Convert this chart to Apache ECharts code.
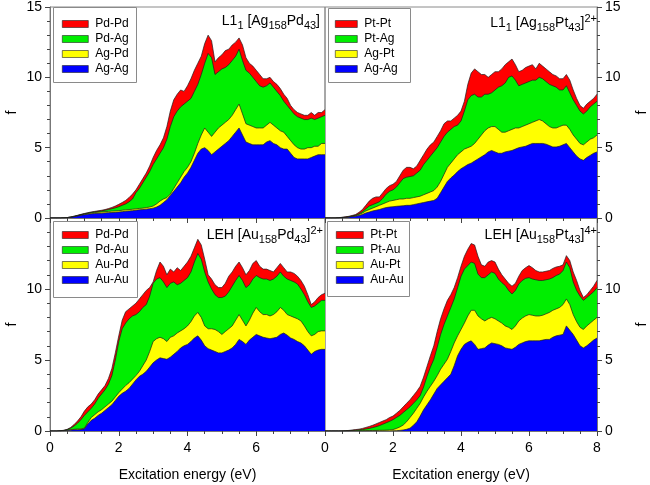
<!DOCTYPE html>
<html>
<head>
<meta charset="utf-8">
<script src="https://cdn.jsdelivr.net/npm/echarts@6/dist/echarts.min.js"></script>
<style>html,body{margin:0;padding:0;background:#fff;}#c{width:650px;height:485px;}</style>
</head>
<body>
<div id="c"></div>
<script>
// Excitation energy sampling (eV)
const energy = [0,0.1,0.2,0.3,0.4,0.5,0.6,0.7,0.8,0.9,1.0,1.1,1.2,1.3,1.4,1.5,1.6,1.7,1.8,1.9,2.0,2.1,2.2,2.3,2.4,2.5,2.6,2.7,2.8,2.9,3.0,3.1,3.2,3.3,3.4,3.5,3.6,3.7,3.8,3.9,4.0,4.1,4.2,4.3,4.4,4.5,4.6,4.7,4.8,4.9,5.0,5.1,5.2,5.3,5.4,5.5,5.6,5.7,5.8,5.9,6.0,6.1,6.2,6.3,6.4,6.5,6.6,6.7,6.8,6.9,7.0,7.1,7.2,7.3,7.4,7.5,7.6,7.7,7.8,7.9,8.0];
const xTicks = [0, 2, 4, 6, 8];
const yTicks = [0, 5, 10, 15];

// Panel 1: L1_1 [Ag158Pd43] (cumulative boundaries)
const p1Total  = [0,0,0,0,0.01,0.03,0.07,0.13,0.19,0.26,0.32,0.38,0.43,0.47,0.51,0.55,0.6,0.67,0.75,0.85,0.97,1.1,1.25,1.45,1.7,2.0,2.4,2.8,3.2,3.7,4.3,4.8,5.2,5.7,6.5,7.6,8.4,8.8,9.1,9.0,9.4,9.9,10.5,11.0,11.5,12.4,13.0,12.6,11.1,11.4,11.6,11.9,12.0,12.3,12.5,12.8,12.3,11.4,11.0,10.8,10.5,10.2,9.9,9.9,10.0,9.7,9.5,9.2,8.8,8.5,8.0,7.7,7.5,7.4,7.3,7.3,7.5,7.3,7.5,7.5,7.7];
const p1Green  = [0,0,0,0,0.01,0.03,0.07,0.12,0.18,0.24,0.3,0.35,0.4,0.44,0.47,0.5,0.55,0.6,0.66,0.72,0.8,0.9,1.0,1.15,1.35,1.8,2.1,2.5,2.9,3.3,3.8,4.2,4.6,5.0,5.6,6.5,7.2,7.6,7.9,8.1,8.3,8.5,9.0,9.5,10.2,11.0,11.7,11.4,10.2,10.4,10.6,10.7,10.9,11.2,11.5,12.0,11.2,10.5,10.3,10.0,9.7,9.4,9.3,9.4,9.6,9.3,9.0,8.7,8.3,8.0,7.7,7.4,7.2,7.1,7.0,7.0,7.1,7.0,7.1,7.2,7.3];
const p1Yellow = [0,0,0,0,0.01,0.03,0.06,0.1,0.16,0.22,0.27,0.32,0.36,0.39,0.41,0.43,0.45,0.47,0.49,0.5,0.52,0.55,0.58,0.6,0.62,0.65,0.68,0.7,0.74,0.78,0.85,1.0,1.2,1.35,1.45,1.7,2.1,2.5,2.9,3.3,3.6,4.0,4.6,5.3,5.9,6.4,6.1,5.8,6.1,6.4,6.6,6.8,7.0,7.3,7.7,8.1,7.4,6.7,6.6,6.5,6.4,6.4,6.4,6.6,6.8,6.6,6.4,6.2,6.1,5.8,5.5,5.2,5.0,4.9,4.9,5.0,5.0,5.1,5.1,5.3,5.3];
const p1Blue   = [0,0,0,0,0.01,0.02,0.05,0.09,0.14,0.19,0.23,0.27,0.3,0.32,0.33,0.34,0.36,0.38,0.39,0.4,0.42,0.45,0.48,0.5,0.52,0.55,0.58,0.6,0.63,0.66,0.7,0.78,0.9,1.1,1.3,1.6,1.9,2.2,2.5,2.9,3.2,3.6,4.1,4.6,4.9,5.0,4.8,4.5,4.7,4.9,5.1,5.3,5.5,5.8,6.1,6.4,5.9,5.4,5.3,5.2,5.2,5.2,5.2,5.4,5.5,5.3,5.2,5.0,4.9,4.9,4.6,4.3,4.2,4.2,4.2,4.2,4.3,4.4,4.5,4.5,4.5];

// Panel 2: L1_1 [Ag158Pt43]2+
const p2Total  = [0,0,0,0,0.02,0.05,0.08,0.12,0.18,0.25,0.4,0.6,0.9,1.2,1.4,1.5,1.5,1.8,2.1,2.3,2.4,2.6,3.0,3.4,3.6,3.6,3.5,3.7,4.1,4.5,4.9,5.2,5.4,5.8,6.2,6.7,6.9,6.9,7.1,7.3,7.6,8.3,9.5,10.3,10.6,10.4,10.2,10.2,10.0,10.2,10.4,10.4,10.6,10.9,11.1,11.3,10.9,10.4,10.5,10.7,10.8,10.9,10.6,11.0,10.8,10.6,10.4,10.2,10.1,9.9,9.9,10.2,9.8,9.1,8.5,8.0,7.8,8.1,8.3,8.5,8.8];
const p2Green  = [0,0,0,0,0.01,0.04,0.06,0.1,0.14,0.2,0.3,0.45,0.65,0.85,0.95,1.05,1.15,1.4,1.7,1.9,2.0,2.2,2.5,2.8,2.9,2.95,3.0,3.2,3.4,3.8,4.1,4.4,4.7,5.0,5.4,5.8,6.1,6.3,6.5,6.6,6.9,7.6,8.4,8.7,8.8,8.6,8.6,8.8,8.8,8.9,9.1,9.3,9.4,9.6,10.0,10.1,9.8,9.4,9.5,9.6,9.7,9.8,9.8,10.0,9.9,9.7,9.5,9.4,9.3,9.1,9.1,9.4,8.9,8.4,8.0,7.6,7.4,7.6,7.9,8.1,8.3];
const p2Yellow = [0,0,0,0,0.01,0.03,0.05,0.08,0.12,0.16,0.25,0.35,0.5,0.6,0.7,0.8,0.9,1.0,1.1,1.2,1.25,1.3,1.35,1.35,1.4,1.4,1.45,1.5,1.55,1.65,1.75,1.85,1.95,2.2,2.6,3.1,3.6,3.9,4.2,4.5,4.7,4.9,5.0,5.1,5.3,5.6,5.9,6.2,6.4,6.5,6.5,6.3,6.1,6.1,6.2,6.3,6.4,6.4,6.5,6.6,6.7,6.8,6.9,7.0,6.9,6.7,6.5,6.4,6.4,6.5,6.6,6.6,6.3,5.9,5.6,5.3,5.2,5.4,5.6,5.7,5.9];
const p2Blue   = [0,0,0,0,0.01,0.02,0.04,0.06,0.1,0.13,0.18,0.25,0.35,0.42,0.5,0.55,0.6,0.68,0.74,0.78,0.8,0.83,0.85,0.87,0.9,0.9,0.95,1.0,1.05,1.1,1.15,1.2,1.25,1.4,1.8,2.2,2.6,2.85,3.05,3.3,3.5,3.65,3.8,3.9,4.05,4.2,4.35,4.5,4.7,4.8,4.7,4.6,4.6,4.7,4.75,4.8,4.9,5.0,5.05,5.1,5.2,5.3,5.3,5.3,5.3,5.25,5.15,5.05,5.05,5.1,5.2,5.3,5.0,4.7,4.4,4.2,4.1,4.3,4.45,4.6,4.7];

// Panel 3: LEH [Au158Pd43]2+
const p3Total  = [0,0,0,0.02,0.05,0.12,0.25,0.45,0.7,1.0,1.4,1.7,1.9,2.2,2.6,2.9,3.2,3.7,4.4,5.5,6.7,7.8,8.4,8.6,8.8,9.0,9.3,9.6,9.9,10.1,10.5,11.3,11.9,11.6,11.0,11.4,11.2,11.5,11.3,11.6,11.9,12.3,12.9,13.5,13.1,12.1,11.0,10.7,10.3,10.1,10.1,10.4,10.9,11.2,11.6,11.9,11.5,11.0,11.3,11.8,12.0,11.6,11.4,11.4,11.3,11.2,11.5,11.8,11.5,11.2,11.2,11.1,10.9,10.6,10.2,9.6,8.9,9.1,9.4,9.6,9.7];
const p3Green  = [0,0,0,0.02,0.04,0.1,0.2,0.35,0.55,0.8,1.1,1.35,1.6,1.9,2.3,2.6,2.9,3.3,3.9,5.0,6.3,7.2,7.6,7.9,8.1,8.2,8.4,8.7,8.9,9.5,10.4,10.7,10.8,10.5,10.1,10.4,10.5,10.3,10.4,10.6,10.8,11.2,11.9,12.5,12.1,11.2,10.5,10.0,9.6,9.4,9.4,9.5,9.8,10.2,10.6,10.95,10.6,10.1,10.3,10.7,10.95,10.8,10.7,10.7,10.6,10.7,10.9,11.2,10.9,10.7,10.6,10.5,10.35,10.0,9.6,9.1,8.7,8.8,9.0,9.2,9.2];
const p3Yellow = [0,0,0,0.01,0.03,0.06,0.1,0.12,0.14,0.15,0.2,0.6,0.95,1.15,1.35,1.5,1.7,1.9,2.1,2.4,2.7,2.95,3.2,3.4,3.65,3.9,4.2,4.6,5.0,5.6,6.3,6.5,6.6,6.5,6.3,6.6,6.7,6.9,7.05,7.2,7.4,7.7,8.1,8.35,8.0,7.4,7.2,7.2,7.15,7.0,6.8,7.0,7.2,7.4,7.8,8.2,7.8,7.4,7.8,8.3,8.7,8.4,8.2,8.2,8.1,8.2,8.4,8.7,8.5,8.2,8.1,8.0,7.9,7.75,7.4,7.0,6.7,6.8,7.0,7.05,7.05];
const p3Blue   = [0,0,0,0.01,0.02,0.04,0.06,0.08,0.09,0.1,0.15,0.5,0.75,0.9,1.1,1.25,1.45,1.65,1.85,2.15,2.45,2.65,2.8,3.0,3.3,3.6,3.85,4.0,4.2,4.5,4.8,5.0,5.15,5.1,5.05,5.2,5.4,5.6,5.85,6.0,6.1,6.3,6.55,6.7,6.4,6.0,5.8,5.7,5.6,5.5,5.5,5.6,5.7,5.85,6.1,6.45,6.3,6.1,6.4,6.6,6.8,6.7,6.6,6.55,6.5,6.55,6.6,6.8,6.9,6.75,6.55,6.45,6.3,6.2,6.0,5.7,5.4,5.6,5.7,5.75,5.75];

// Panel 4: LEH [Au158Pt43]4+
const p4Total  = [0,0,0,0,0,0,0.02,0.04,0.07,0.1,0.13,0.18,0.25,0.32,0.4,0.5,0.6,0.7,0.8,0.95,1.05,1.25,1.45,1.7,1.95,2.2,2.5,2.8,3.15,3.8,4.55,5.3,6.0,7.0,7.9,8.6,9.2,9.6,10.1,10.8,11.6,12.3,12.8,13.2,13.1,12.3,11.7,11.6,11.9,12.0,11.9,11.4,11.0,10.7,10.4,10.2,10.4,10.9,11.3,11.5,11.65,11.5,11.3,11.2,11.2,11.25,11.3,11.45,11.55,11.6,11.7,12.35,12.0,11.2,10.6,9.9,9.4,9.6,9.9,10.2,10.6];
const p4Green  = [0,0,0,0,0,0,0.01,0.02,0.04,0.06,0.08,0.1,0.14,0.18,0.24,0.3,0.38,0.48,0.58,0.68,0.8,0.95,1.1,1.3,1.5,1.7,1.95,2.2,2.5,3.1,3.85,4.5,5.05,5.9,6.8,7.5,8.1,8.7,9.3,10.1,10.9,11.4,11.65,11.9,11.8,11.05,10.8,10.8,11.0,11.2,11.1,10.7,10.45,10.25,9.9,9.65,9.9,10.35,10.6,10.75,10.8,10.7,10.65,10.6,10.6,10.65,10.7,10.8,10.95,11.05,11.3,11.9,11.5,10.5,9.9,9.5,9.2,9.4,9.6,9.8,10.1];
const p4Yellow = [0,0,0,0,0,0,0,0,0.01,0.01,0.02,0.02,0.03,0.03,0.04,0.04,0.05,0.05,0.06,0.07,0.1,0.18,0.28,0.42,0.65,0.95,1.25,1.6,1.95,2.4,2.8,3.15,3.5,3.9,4.35,4.7,5.05,5.6,6.2,6.7,7.15,7.6,8.1,8.5,8.5,8.1,7.9,7.75,7.9,8.0,7.9,7.75,7.6,7.4,7.3,7.15,7.4,7.75,7.95,8.1,8.2,8.15,8.1,8.1,8.15,8.25,8.35,8.5,8.6,8.7,8.9,9.3,8.9,8.2,7.7,7.3,7.15,7.4,7.6,7.8,8.0];
const p4Blue   = [0,0,0,0,0,0,0,0,0,0,0,0,0,0,0,0,0,0,0,0,0.01,0.02,0.04,0.07,0.12,0.2,0.4,0.65,1.05,1.5,1.85,2.2,2.6,3.0,3.25,3.5,3.75,4.0,4.6,5.3,5.75,6.1,6.25,6.35,6.1,5.75,5.8,5.85,6.05,6.2,6.15,6.1,6.0,5.85,5.8,5.75,5.9,6.1,6.2,6.3,6.35,6.35,6.35,6.35,6.4,6.45,6.45,6.6,6.7,6.75,6.8,7.4,7.1,6.8,6.4,6.0,5.85,6.0,6.2,6.4,6.55];

const names1 = ['Pd-Pd', 'Pd-Ag', 'Ag-Pd', 'Ag-Ag'];
const names2 = ['Pt-Pt', 'Pt-Ag', 'Ag-Pt', 'Ag-Ag'];
const names3 = ['Pd-Pd', 'Pd-Au', 'Au-Pd', 'Au-Au'];
const names4 = ['Pt-Pt', 'Pt-Au', 'Au-Pt', 'Au-Au'];
const fillColors = ['#ff0000', '#00ee00', '#ffff00', '#0000ff'];

const F = "'Liberation Sans', Arial, Helvetica, sans-serif";

const panels = [
  {names: names1, data: [p1Total, p1Green, p1Yellow, p1Blue]},
  {names: names2, data: [p2Total, p2Green, p2Yellow, p2Blue]},
  {names: names3, data: [p3Total, p3Green, p3Yellow, p3Blue]},
  {names: names4, data: [p4Total, p4Green, p4Yellow, p4Blue]}
];

const grids = [
  {left: 50, top: 6, width: 275, height: 212},
  {left: 325, top: 6, width: 274, height: 212},
  {left: 50, top: 218, width: 275, height: 213},
  {left: 325, top: 218, width: 274, height: 213}
].map(g => Object.assign({show: true, borderColor: '#8a8a8a', borderWidth: 1, backgroundColor: 'transparent'}, g));

const tickCol = '#444';
const xAxes = [0,1,2,3].map(i => ({
  type: 'value', gridIndex: i, min: xTicks[0], max: xTicks[xTicks.length-1], interval: 2,
  axisLine: {show: true, onZero: false, lineStyle: {color: '#777', width: 1}},
  axisTick: {show: true, inside: false, length: 5, lineStyle: {color: tickCol}},
  minorTick: {show: true, splitNumber: 4, length: 3, lineStyle: {color: tickCol}},
  splitLine: {show: false},
  axisLabel: {show: i >= 2, fontSize: 14, fontFamily: F, color: '#000', margin: 10,
              showMaxLabel: i === 3, showMinLabel: true},
  name: i >= 2 ? 'Excitation energy (eV)' : '',
  nameLocation: 'middle', nameGap: 37,
  nameTextStyle: {fontSize: 14, fontFamily: F, color: '#000'}
}));

const yAxes = [0,1,2,3].map(i => ({
  type: 'value', gridIndex: i, min: yTicks[0], max: yTicks[yTicks.length-1], interval: 5,
  position: (i % 2 === 1) ? 'right' : 'left',
  axisLine: {show: true, onZero: false, lineStyle: {color: '#777', width: 1}},
  axisTick: {show: true, inside: false, length: 5, lineStyle: {color: tickCol}},
  minorTick: {show: true, splitNumber: 5, length: 3, lineStyle: {color: tickCol}},
  splitLine: {show: false},
  axisLabel: {fontSize: 14, fontFamily: F, color: '#000', margin: 8,
              showMaxLabel: i < 2, showMinLabel: true},
  name: 'f', nameLocation: 'middle', nameGap: (i % 2 === 1) ? 38 : 31,
  nameTextStyle: {fontSize: 14, fontFamily: F, color: '#000'}
}));

const series = [];
panels.forEach((p, i) => {
  p.data.forEach((vals, k) => {
    series.push({
      type: 'line', name: p.names[k], xAxisIndex: i, yAxisIndex: i,
      data: energy.map((e, j) => [e, vals[j]]),
      symbol: 'none', showSymbol: false, smooth: false, silent: true,
      color: fillColors[k],
      itemStyle: {color: fillColors[k]},
      lineStyle: {color: '#1e1e1e', width: 0.7},
      areaStyle: {color: fillColors[k], opacity: 1, origin: 0},
      z: 2
    });
  });
});

const legendPos = [
  {left: 62, top: 17, w: 26},
  {left: 335, top: 17, w: 22},
  {left: 62, top: 228, w: 26},
  {left: 336, top: 228, w: 27}
];
const legends = panels.map((p, i) => ({
  orient: 'vertical', left: legendPos[i].left, top: legendPos[i].top, padding: 0,
  itemWidth: legendPos[i].w, itemHeight: 7, itemGap: 1, selectedMode: false, z: 10,
  data: p.names.map((n, k) => ({name: n, icon: 'rect', itemStyle: {color: fillColors[k], borderColor: '#222', borderWidth: 0.6}})),
  textStyle: {fontSize: 12, fontFamily: F, color: '#000', lineHeight: 14, padding: [0, 0, 0, 2]}
}));

const rich = {
  n: {fontSize: 14, fontFamily: F, color: '#000', lineHeight: 20},
  s: {fontSize: 11, fontFamily: F, color: '#000', lineHeight: 11, verticalAlign: 'bottom'},
  p: {fontSize: 11, fontFamily: F, color: '#000', lineHeight: 11, verticalAlign: 'top'}
};
const titleTexts = [
  '{n|L1}{s|1}{n| [Ag}{s|158}{n|Pd}{s|43}{n|]}',
  '{n|L1}{s|1}{n| [Ag}{s|158}{n|Pt}{s|43}{n|]}{p|2+}',
  '{n|LEH [Au}{s|158}{n|Pd}{s|43}{n|]}{p|2+}',
  '{n|LEH [Au}{s|158}{n|Pt}{s|43}{n|]}{p|4+}'
];
const titlePos = [[320, 21], [597, 23], [323, 235], [597, 235]];

const legendBoxes = [
  [53.5, 7.5, 83, 75],
  [328.5, 8.5, 82, 74],
  [53.5, 221.5, 84, 76],
  [327.5, 221.5, 82, 75]
];

const graphic = [];
legendBoxes.forEach(b => graphic.push({
  type: 'rect', z: 5, silent: true,
  shape: {x: b[0], y: b[1], width: b[2], height: b[3]},
  style: {fill: '#fff', stroke: '#8a8a8a', lineWidth: 1}
}));
titleTexts.forEach((t, i) => graphic.push({
  type: 'text', z: 6, silent: true, x: titlePos[i][0], y: titlePos[i][1],
  style: {text: t, rich: rich, align: 'right', verticalAlign: 'middle', font: '14px ' + F, fill: '#000'}
}));

const chart = echarts.init(document.getElementById('c'), null, {renderer: 'canvas'});
chart.setOption({
  animation: false,
  backgroundColor: '#fff',
  grid: grids,
  xAxis: xAxes,
  yAxis: yAxes,
  legend: legends,
  series: series,
  graphic: graphic
});
</script>
</body>
</html>
